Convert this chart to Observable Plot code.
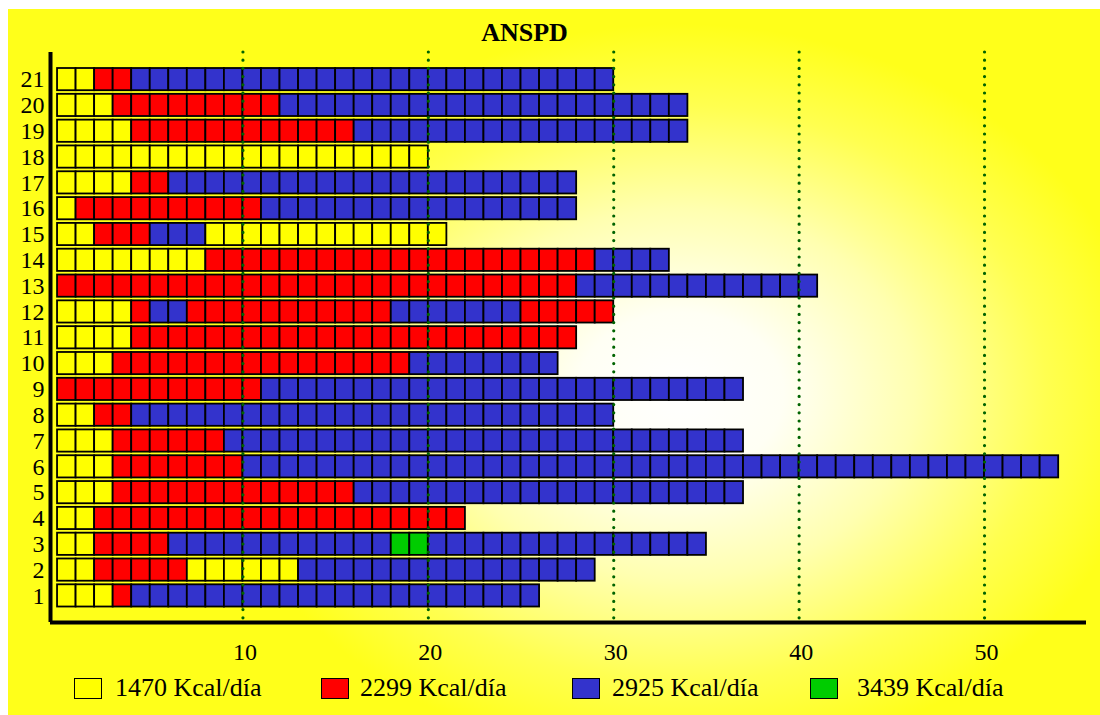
<!DOCTYPE html>
<html>
<head>
<meta charset="utf-8">
<script src="https://cdn.jsdelivr.net/npm/d3@7"></script>
<script src="https://cdn.jsdelivr.net/npm/@observablehq/plot@0.6"></script>
<style>
  html, body { margin: 0; padding: 0; width: 1100px; height: 715px; background: #fff; overflow: hidden; }
  body { position: relative; font-family: "Liberation Serif", "DejaVu Serif", serif; }
  #bg { position: absolute; left: 8px; top: 9px; width: 1092px; height: 706px;
        background: radial-gradient(ellipse 470px 370px at 672px 385px, #ffffff 0%, #fffff4 22%, #ffffb0 50%, #ffff50 78%, #ffff1a 100%); }
  #title { position: absolute; left: 0; top: 20px; width: 1049px; text-align: center;
           font-weight: bold; font-size: 26px; line-height: 26px; color: #000; }
  #chart { position: absolute; left: 0; top: 44px; }
  .lg-box { position: absolute; top: 678px; width: 26px; height: 19px; border: 1.5px solid #000; }
  .lg-txt { position: absolute; top: 675px; font-size: 26px; line-height: 26px; color: #000; white-space: nowrap; }
</style>
</head>
<body>
<div id="bg"></div>
<div id="title">ANSPD</div>
<div id="chart"></div>
<div id="legend"></div>
<script>
// ---- data ----
const titleText = "ANSPD";
const rowLabels = d3.range(1, 22);               // 1 .. 21 (bottom to top)
const seriesLabels = ["1470 Kcal/día", "2299 Kcal/día", "2925 Kcal/día", "3439 Kcal/día"];
const seriesCodes = ["Y", "R", "B", "G"];
const seriesColors = ["#ffff00", "#ff0000", "#3333cc", "#00cc00"];
const xTicks = [10, 20, 30, 40, 50];
// consecutive runs of cells (code, count) for each row 1..21
const row01 = [["Y",3],["R",1],["B",22]];
const row02 = [["Y",2],["R",5],["Y",6],["B",16]];
const row03 = [["Y",2],["R",4],["B",12],["G",2],["B",15]];
const row04 = [["Y",2],["R",20]];
const row05 = [["Y",3],["R",13],["B",21]];
const row06 = [["Y",3],["R",7],["B",44]];
const row07 = [["Y",3],["R",6],["B",28]];
const row08 = [["Y",2],["R",2],["B",26]];
const row09 = [["R",11],["B",26]];
const row10 = [["Y",3],["R",16],["B",8]];
const row11 = [["Y",4],["R",24]];
const row12 = [["Y",4],["R",1],["B",2],["R",11],["B",7],["R",5]];
const row13 = [["R",28],["B",13]];
const row14 = [["Y",8],["R",21],["B",4]];
const row15 = [["Y",2],["R",3],["B",3],["Y",13]];
const row16 = [["Y",1],["R",10],["B",17]];
const row17 = [["Y",4],["R",2],["B",22]];
const row18 = [["Y",20]];
const row19 = [["Y",4],["R",12],["B",18]];
const row20 = [["Y",3],["R",9],["B",22]];
const row21 = [["Y",2],["R",2],["B",26]];
const rowRuns = [row01,row02,row03,row04,row05,row06,row07,row08,row09,row10,row11,
                 row12,row13,row14,row15,row16,row17,row18,row19,row20,row21];

// ---- build cells ----
const cells = [];
rowRuns.forEach((runs, i) => {
  let x = 0;
  runs.forEach(([code, n]) => {
    for (let k = 0; k < n; k++) {
      cells.push({row: rowLabels[i], x1: x, x2: x + 1, series: seriesLabels[seriesCodes.indexOf(code)]});
      x++;
    }
  });
});

const xDomain = [-0.38, 55.5];
const yDomain = [-0.03, 22.05];
const half = 0.43;

const chart = Plot.plot({
  width: 1100,
  height: 626,
  marginTop: 8,
  marginBottom: 48,
  marginLeft: 50,
  marginRight: 14,
  style: {background: "transparent", fontFamily: "'Liberation Serif', serif", color: "#000", overflow: "visible"},
  x: {domain: xDomain},
  y: {domain: yDomain},
  color: {domain: seriesLabels, range: seriesColors},
  marks: [
    Plot.rect(cells, {x1: "x1", x2: "x2", y1: d => d.row - half, y2: d => d.row + half,
                      fill: "series", stroke: "#000", strokeWidth: 1.8}),
    Plot.ruleX(xTicks, {stroke: "#006400", strokeWidth: 3.2, strokeDasharray: "0 8.2", strokeLinecap: "round"}),
    Plot.ruleX([xDomain[0]], {stroke: "#000", strokeWidth: 4}),
    Plot.ruleY([yDomain[0]], {stroke: "#000", strokeWidth: 4}),
    Plot.axisY(rowLabels, {tickSize: 0, tickPadding: 6, fontSize: 24, fill: "#000"}),
    Plot.axisX(xTicks, {tickSize: 0, tickPadding: 20, fontSize: 24, fill: "#000", dx: 2})
  ]
});
document.getElementById("chart").appendChild(chart);
document.getElementById("title").textContent = titleText;

// ---- legend ----
const legendBoxLeft = [74, 321, 572, 810];
const legendTextLeft = [115, 360, 612, 857];
const legend = document.getElementById("legend");
seriesLabels.forEach((label, i) => {
  const b = document.createElement("div");
  b.className = "lg-box";
  b.style.left = legendBoxLeft[i] + "px";
  b.style.background = seriesColors[i];
  legend.appendChild(b);
  const t = document.createElement("div");
  t.className = "lg-txt";
  t.style.left = legendTextLeft[i] + "px";
  t.textContent = label;
  legend.appendChild(t);
});
</script>
</body>
</html>
